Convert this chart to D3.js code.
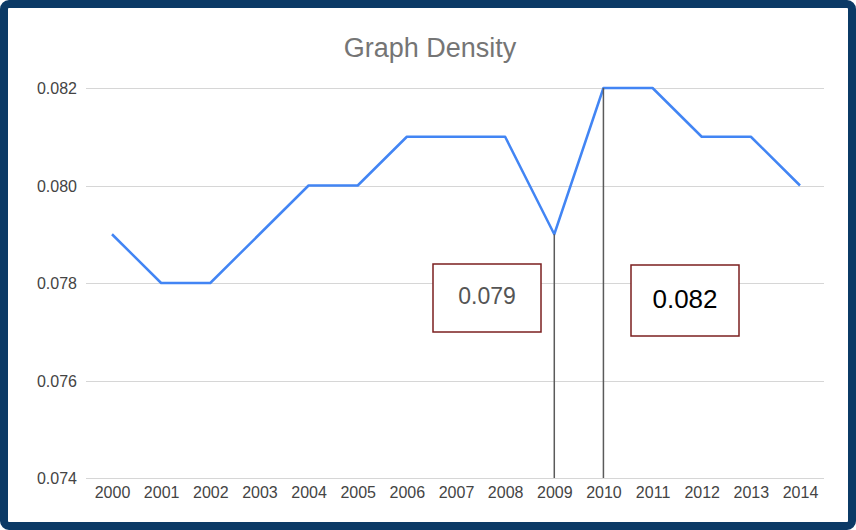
<!DOCTYPE html>
<html>
<head>
<meta charset="utf-8">
<script src="https://cdn.jsdelivr.net/npm/d3@7"></script>
<style>
  body { margin: 0; background: #ffffff; }
  svg { display: block; font-family: Arial, "Liberation Sans", sans-serif; }
  .grid line { stroke: #d6d6d6; stroke-width: 1; }
  .axis text { fill: #444444; font-size: 16px; }
</style>
</head>
<body>
<svg id="chart" width="856" height="530"></svg>
<script>
// chart data
var years = [2000, 2001, 2002, 2003, 2004, 2005, 2006, 2007, 2008, 2009, 2010, 2011, 2012, 2013, 2014];
var density = [0.079, 0.078, 0.078, 0.079, 0.080, 0.080, 0.081, 0.081, 0.081, 0.079, 0.082, 0.082, 0.081, 0.081, 0.080];
var yTicks = [0.074, 0.076, 0.078, 0.080, 0.082];
var callouts = [
    { year: 2009, value: 0.079, label: "0.079", color: "#555555" },
    { year: 2010, value: 0.082, label: "0.082", color: "#000000" }
];

var svg = d3.select("#chart");
var w = 856, h = 530;

// frame
svg.append("rect")
    .attr("x", 4)
    .attr("y", 4)
    .attr("width", w - 8)
    .attr("height", h - 8)
    .attr("rx", 5)
    .attr("fill", "#ffffff")
    .attr("stroke", "#0b3a66")
    .attr("stroke-width", 8);

var margin = { left: 86, right: 32, top: 88, bottom: 52 };

var xScale = d3.scalePoint()
    .domain(years)
    .range([112, 800]);

var yScale = d3.scaleLinear()
    .domain([0.074, 0.082])
    .range([478, 88]);

// title
svg.append("text")
    .attr("x", 430)
    .attr("y", 57)
    .attr("text-anchor", "middle")
    .attr("fill", "#757575")
    .attr("font-size", "27px")
    .text("Graph Density");

// horizontal gridlines
svg.append("g")
    .attr("class", "grid")
    .selectAll("line")
    .data(yTicks)
    .enter()
    .append("line")
    .attr("x1", margin.left)
    .attr("x2", w - margin.right)
    .attr("y1", function(d) { return Math.round(yScale(d)) + 0.5; })
    .attr("y2", function(d) { return Math.round(yScale(d)) + 0.5; });

// y axis labels
var yAxis = d3.axisLeft(yScale)
    .tickValues(yTicks)
    .tickFormat(d3.format(".3f"))
    .tickSize(0)
    .tickPadding(0);

svg.append("g")
    .attr("class", "axis")
    .attr("transform", "translate(77,0)")
    .call(yAxis)
    .call(function(g) { g.select(".domain").remove(); })
    .selectAll("text")
    .attr("dy", "0.35em");

// x axis labels
var xAxis = d3.axisBottom(xScale)
    .tickSize(0)
    .tickPadding(0);

svg.append("g")
    .attr("class", "axis")
    .attr("transform", "translate(0,487)")
    .call(xAxis)
    .call(function(g) { g.select(".domain").remove(); })
    .selectAll("text")
    .attr("dy", "0.71em");

// the line
var line = d3.line()
    .x(function(d, i) { return xScale(years[i]); })
    .y(function(d) { return yScale(d); });

svg.append("path")
    .datum(density)
    .attr("fill", "none")
    .attr("stroke", "#4285f4")
    .attr("stroke-width", 2.5)
    .attr("stroke-linejoin", "round")
    .attr("d", line);

// drop lines for the two highlighted years
svg.selectAll(".dropLine")
    .data(callouts)
    .enter()
    .append("line")
    .attr("class", "dropLine")
    .attr("x1", function(d) { return xScale(d.year); })
    .attr("x2", function(d) { return xScale(d.year); })
    .attr("y1", function(d) { return yScale(d.value); })
    .attr("y2", yScale(0.074))
    .attr("stroke", "#5a5a5a")
    .attr("stroke-width", 1.5);

// callout boxes
var boxes = [
    { x: 433, y: 264, w: 108, h: 68 },
    { x: 631, y: 265, w: 108, h: 71 }
];

var callout = svg.selectAll(".callout")
    .data(callouts)
    .enter()
    .append("g")
    .attr("class", "callout");

callout.append("rect")
    .attr("x", function(d, i) { return boxes[i].x; })
    .attr("y", function(d, i) { return boxes[i].y; })
    .attr("width", function(d, i) { return boxes[i].w; })
    .attr("height", function(d, i) { return boxes[i].h; })
    .attr("fill", "#ffffff")
    .attr("stroke", "#7b1f1f")
    .attr("stroke-width", 1.5);

callout.append("text")
    .attr("x", function(d, i) { return boxes[i].x + boxes[i].w / 2; })
    .attr("y", function(d, i) { return boxes[i].y + boxes[i].h / 2 - 2; })
    .attr("dy", "0.35em")
    .attr("text-anchor", "middle")
    .attr("font-size", function(d, i) { return i == 0 ? "23px" : "26px"; })
    .attr("fill", function(d) { return d.color; })
    .text(function(d) { return d.label; });
</script>
</body>
</html>
